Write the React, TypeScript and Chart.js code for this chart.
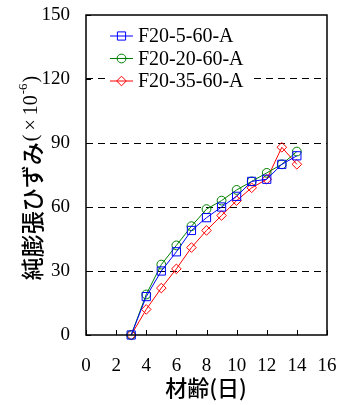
import React, { useEffect, useRef } from "react";
import { Chart, registerables } from "chart.js";

Chart.register(...registerables);

const ages = [3, 4, 5, 6, 7, 8, 9, 10, 11, 12, 13, 14];
const seriesNames = ["F20-5-60-A", "F20-20-60-A", "F20-35-60-A"];
const strainA = [0, 18, 30, 39, 49, 55, 60, 65, 72, 73, 80, 84];
const strainB = [0, 19, 33, 42, 51, 59, 63, 68, 72, 76, 80, 86];
const strainC = [0, 12, 22, 31, 41, 49, 56, 63, 69, 73, 88, 80];
const yTicks = [0, 30, 60, 90, 120, 150];
const xTicks = [0, 2, 4, 6, 8, 10, 12, 14, 16];
const colors = ["#0000ff", "#008000", "#ff0000"];
const markers = ["rect", "circle", "rectRot"];
const radii = [5.8, 4.4, 4.8];

const SERIF = "'Liberation Serif', 'Times New Roman', serif";
const JP = "'Noto Sans CJK JP', sans-serif";

function drawMarker(ctx: any, style: string, r: number, x: number, y: number, color: string) {
  ctx.save();
  ctx.strokeStyle = color;
  ctx.lineWidth = 1;
  ctx.beginPath();
  if (style === "rect") {
    const s = Math.SQRT1_2 * r;
    ctx.rect(x - s, y - s, 2 * s, 2 * s);
  } else if (style === "circle") {
    ctx.arc(x, y, r, 0, Math.PI * 2);
  } else {
    ctx.moveTo(x, y - r);
    ctx.lineTo(x + r, y);
    ctx.lineTo(x, y + r);
    ctx.lineTo(x - r, y);
    ctx.closePath();
  }
  ctx.stroke();
  ctx.restore();
}

const legendBgPlugin = {
  id: "legendBg",
  beforeDatasetsDraw(chart: any) {
    const { ctx, chartArea } = chart;
    ctx.save();
    ctx.fillStyle = "#fff";
    ctx.fillRect(chartArea.left + 20, chartArea.top + 8, 146, 78);
    ctx.restore();
  },
};

const decorPlugin = {
  id: "decor",
  afterDraw(chart: any) {
    const { ctx, chartArea } = chart;
    const { left, right, top, bottom } = chartArea;
    const xs = chart.scales.x;
    const ys = chart.scales.y;
    ctx.save();
    ctx.strokeStyle = "#000";
    ctx.lineWidth = 1.5;
    ctx.setLineDash([]);
    ctx.strokeRect(left, top, right - left, bottom - top);
    ctx.lineWidth = 1;
    ctx.beginPath();
    xTicks.forEach((v) => {
      const px = Math.round(xs.getPixelForValue(v)) + 0.5;
      ctx.moveTo(px, bottom);
      ctx.lineTo(px, bottom - 5);
    });
    yTicks.forEach((v) => {
      const py = Math.round(ys.getPixelForValue(v)) + 0.5;
      ctx.moveTo(left, py);
      ctx.lineTo(left + 5, py);
    });
    ctx.stroke();

    const lx0 = left + 24;
    const lx1 = left + 47;
    const rowsY = [top + 21, top + 43.5, top + 66];
    seriesNames.forEach((name, i) => {
      const y = rowsY[i];
      ctx.strokeStyle = colors[i];
      ctx.lineWidth = 1;
      ctx.beginPath();
      ctx.moveTo(lx0, y);
      ctx.lineTo(lx1, y);
      ctx.stroke();
      drawMarker(ctx, markers[i], radii[i], (lx0 + lx1) / 2, y, colors[i]);
      ctx.fillStyle = "#000";
      ctx.font = `20px ${SERIF}`;
      ctx.textAlign = "left";
      ctx.textBaseline = "middle";
      ctx.fillText(name, lx1 + 5, y + 1);
    });

    ctx.fillStyle = "#000";
    ctx.font = `500 22px ${JP}`;
    ctx.textAlign = "center";
    ctx.textBaseline = "middle";
    ctx.fillText("材齢(日)", 206, 388);

    const parts = [
      { t: "純膨張ひずみ", f: `500 23px ${JP}`, dy: 0, gap: 1 },
      { t: "(", f: `20px ${SERIF}`, dy: 0, gap: 4 },
      { t: "×", f: `20px ${SERIF}`, dy: 0, gap: 4 },
      { t: "10", f: `20px ${SERIF}`, dy: 0, gap: 1 },
      { t: "-6", f: `13px ${SERIF}`, dy: -8, gap: 1 },
      { t: ")", f: `20px ${SERIF}`, dy: 0, gap: 0 },
    ];
    let total = 0;
    const widths = parts.map((p) => {
      ctx.font = p.f;
      const w = ctx.measureText(p.t).width + p.gap;
      total += w;
      return w;
    });
    ctx.translate(32, 178);
    ctx.rotate(-Math.PI / 2);
    let cx = -total / 2;
    ctx.textAlign = "left";
    ctx.textBaseline = "middle";
    parts.forEach((p, i) => {
      ctx.font = p.f;
      ctx.fillText(p.t, cx, p.dy);
      cx += widths[i];
    });
    ctx.restore();
  },
};

export default function App() {
  const ref = useRef<HTMLCanvasElement>(null);
  useEffect(() => {
    if (!ref.current) return;
    const all = [strainA, strainB, strainC];
    const chart = new Chart(ref.current, {
      type: "line",
      data: {
        datasets: all.map((vals, i) => ({
          label: seriesNames[i],
          data: ages.map((a, j) => ({ x: a, y: vals[j] })),
          borderColor: colors[i],
          backgroundColor: "rgba(0,0,0,0)",
          borderWidth: 1,
          pointStyle: markers[i] as any,
          pointRadius: radii[i],
          pointBorderWidth: 1,
          pointBorderColor: colors[i],
          pointBackgroundColor: "rgba(0,0,0,0)",
          tension: 0,
          clip: false as any,
        })),
      },
      options: {
        animation: false,
        responsive: false,
        devicePixelRatio: 1,
        layout: { autoPadding: false, padding: { left: 0, right: 14, top: 15, bottom: 0 } },
        plugins: { legend: { display: false }, tooltip: { enabled: false } },
        scales: {
          x: {
            type: "linear",
            min: 0,
            max: 16,
            afterFit: (s: any) => {
              s.height = 70;
              s.paddingLeft = 0;
              s.paddingRight = 0;
            },
            afterBuildTicks: (s: any) => {
              s.ticks = xTicks.map((v) => ({ value: v }));
            },
            ticks: {
              font: { family: SERIF, size: 19 },
              color: "#000",
              padding: 20,
              maxRotation: 0,
            },
            grid: { display: false, drawTicks: false },
            border: { display: false },
          },
          y: {
            type: "linear",
            min: 0,
            max: 150,
            afterFit: (s: any) => {
              s.width = 86;
              s.paddingTop = 0;
              s.paddingBottom = 0;
            },
            afterBuildTicks: (s: any) => {
              s.ticks = yTicks.map((v) => ({ value: v }));
            },
            ticks: {
              font: { family: SERIF, size: 19 },
              color: "#000",
              padding: 16,
            },
            grid: {
              drawTicks: false,
              color: (c: any) =>
                c.tick && c.tick.value > 0 && c.tick.value < 150 ? "#000" : "rgba(0,0,0,0)",
              lineWidth: 1,
            },
            border: { display: false, dash: [7, 5] },
          },
        },
      },
      plugins: [legendBgPlugin, decorPlugin],
    });
    return () => chart.destroy();
  }, []);
  return (
    <div style={{ position: "fixed", left: 0, top: 0, width: 341, height: 405, background: "#fff" }}>
      <canvas ref={ref} width={341} height={405} style={{ width: 341, height: 405 }} />
    </div>
  );
}
